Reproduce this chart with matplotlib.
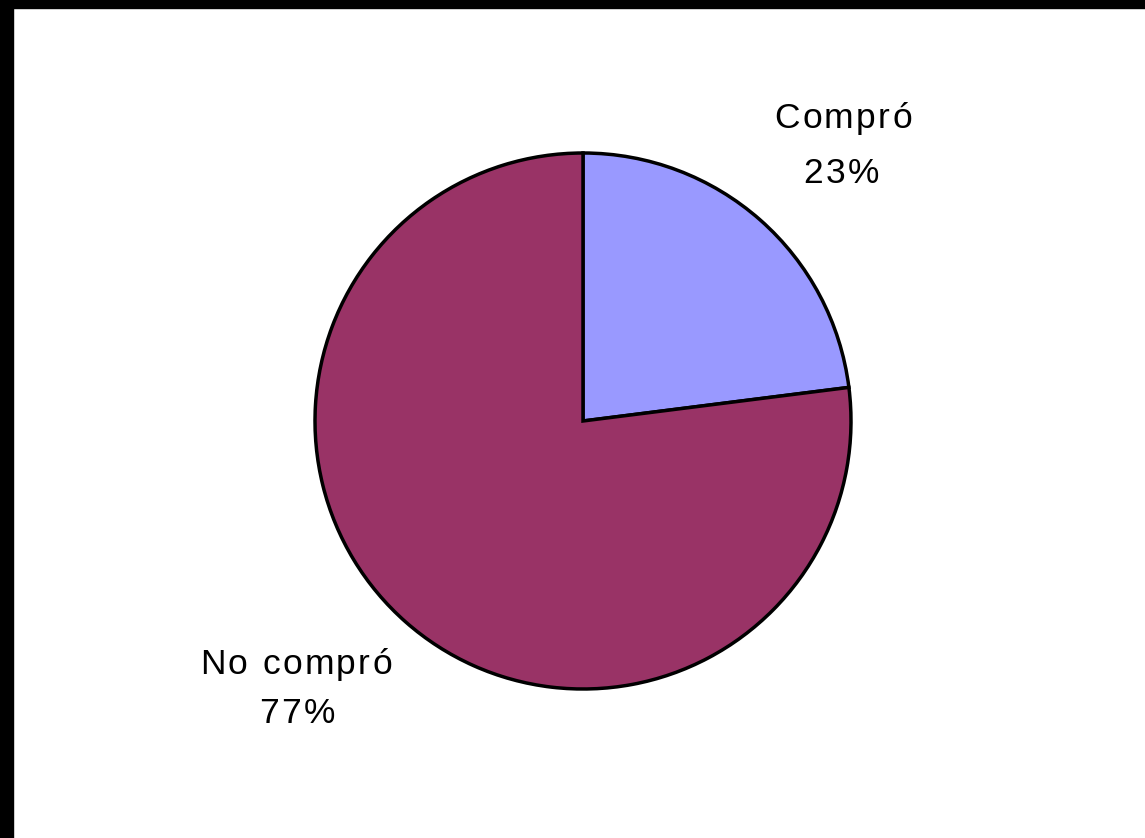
import matplotlib
matplotlib.use("Agg")
import matplotlib.pyplot as plt
from matplotlib.patches import Rectangle
from matplotlib.font_manager import FontProperties

labels = ["Compró", "No compró"]
values = [23, 77]
colors = ["#9999FF", "#993366"]

W, H = 1145, 838
fig = plt.figure(figsize=(W / 100, H / 100), dpi=100)
fig.patch.set_facecolor("white")

# black frame on top and left edges
fig.patches.append(Rectangle((0, 1 - 8 / H), 1, 8 / H, transform=fig.transFigure,
                             color="black", zorder=0))
fig.patches.append(Rectangle((0, 0), 13 / W, 1, transform=fig.transFigure,
                             color="black", zorder=0))

ax = fig.add_axes([0, 0, 1, 1])
cx, cy, r = 583, H - 421, 268
ax.pie(values, colors=colors, startangle=90, counterclock=False,
       center=(cx, cy), radius=r, frame=True,
       wedgeprops=dict(edgecolor="black", linewidth=2.5))
ax.set_xlim(0, W)
ax.set_ylim(0, H)
ax.set_aspect("equal")
ax.axis("off")

prop = FontProperties(family="Liberation Sans", size=25.5)
renderer = fig.canvas.get_renderer()
track = 2.3  # px letter spacing


def width(s):
    w1, _, _ = renderer.get_text_width_height_descent(s + "|", prop, ismath=False)
    w2, _, _ = renderer.get_text_width_height_descent("|", prop, ismath=False)
    return w1 - w2


def spaced_text(s, xc, ybase):
    total = width(s) + track * (len(s) - 1)
    x0 = xc - total / 2
    for i, ch in enumerate(s):
        if ch == " ":
            continue
        x = x0 + width(s[:i]) + track * i
        ax.text(x, ybase, ch, ha="left", va="baseline", fontproperties=prop,
                color="black")


label_pos = [((843, H - 128), (841, H - 183)), ((296, H - 674), (297, H - 723))]
for lab, v, (p1, p2) in zip(labels, values, label_pos):
    spaced_text(lab, p1[0], p1[1])
    spaced_text(f"{v}%", p2[0], p2[1])

fig.savefig("out.png", dpi=100, facecolor="white")
